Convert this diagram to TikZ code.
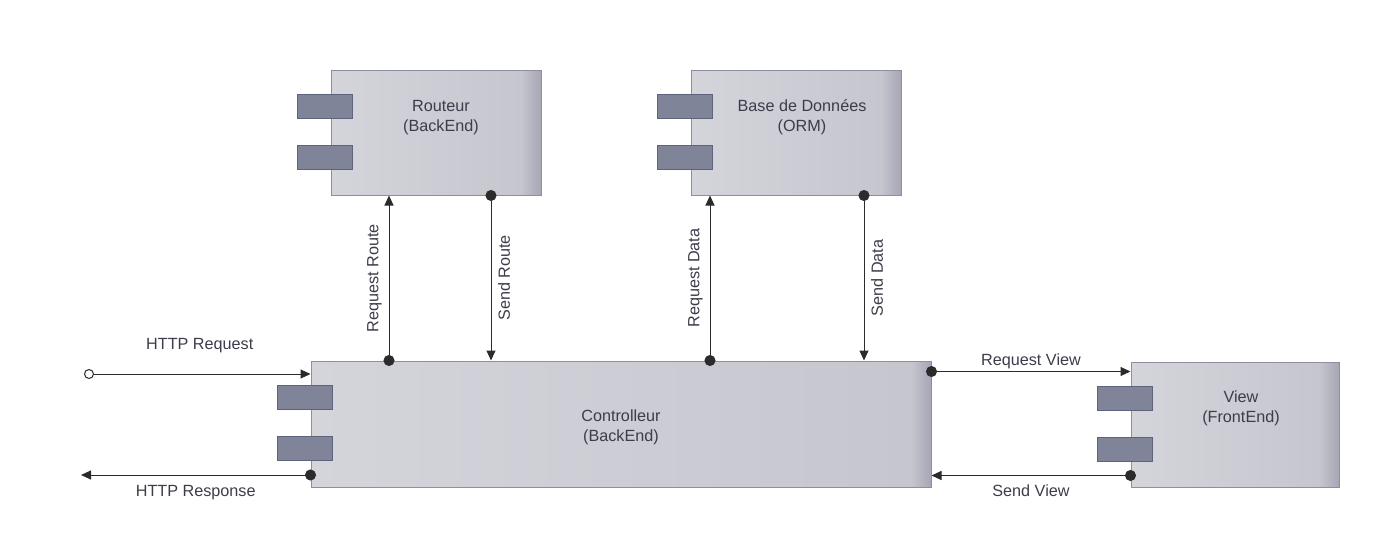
\documentclass[tikz,border=0pt]{standalone}
\usepackage{fontspec}
\setmainfont{Liberation Sans}
\usetikzlibrary{arrows.meta,calc}
\definecolor{boxlight}{HTML}{D4D4DB}
\definecolor{boxgray}{HTML}{C6C6CF}
\definecolor{boxdark}{HTML}{A6A6B5}
\definecolor{boxline}{HTML}{8E8E9E}
\definecolor{portfill}{HTML}{7F8499}
\definecolor{portline}{HTML}{5E637C}
\definecolor{txtgray}{HTML}{3C3C4A}
\definecolor{linegray}{HTML}{2B2B2B}
\pgfdeclarehorizontalshading{compshade}{100bp}{color(0bp)=(boxlight); color(25bp)=(boxlight); color(70.2bp)=(boxgray); color(75bp)=(boxdark); color(100bp)=(boxdark)}
\pgfdeclarehorizontalshading{ctrlshade}{100bp}{color(0bp)=(boxlight); color(25bp)=(boxlight); color(73.4bp)=(boxgray); color(75bp)=(boxdark); color(100bp)=(boxdark)}

\begin{document}
\begin{tikzpicture}[x=0.5pt, y=0.5pt]
    \tikzstyle{every node}=[font=\fontsize{8.1pt}{10pt}\selectfont, text=txtgray]
    \tikzstyle{comp}=[rectangle, draw=boxline, line width=0.5pt, shading=compshade, inner sep=0pt]
    \tikzstyle{port}=[rectangle, draw=portline, line width=0.5pt, fill=portfill, minimum width=27.5pt, minimum height=12pt, inner sep=0pt]
    \tikzstyle{txt}=[align=center]
    \tikzstyle{conn}=[draw=linegray, line width=0.5pt, -{Triangle[length=5pt,width=4.5pt]}]
    \tikzstyle{dotconn}=[conn, {Circle[length=5.5pt]}-{Triangle[length=5pt,width=4.5pt]}, shorten <=-2.75pt]
    \tikzstyle{opnconn}=[conn, {Circle[open,length=5pt,fill=white]}-{Triangle[length=5pt,width=4.5pt]}, shorten <=-2.5pt]
    \useasboundingbox (0,0) rectangle (1373,559);
    \node[comp, minimum width=105pt, minimum height=62.5pt] (rout) at (436,426.5) {};
    \node[comp, minimum width=105pt, minimum height=62.5pt] (bdd) at (796,426.5) {};
    \node[comp, shading=ctrlshade, minimum width=310pt, minimum height=63pt] (ctrl) at (621,135) {};
    \node[comp, minimum width=104pt, minimum height=62.5pt] (view) at (1235,134.5) {};
    \foreach \b in {rout,bdd,ctrl,view} {
        \node[port] (\b-p1) at ($(\b.north west)+(-5.5,-37)$) {};
        \node[port] (\b-p2) at ($(\b.north west)+(-5.5,-87.5)$) {};
    }
    \node[txt] (rout-t) at ($(rout)+(5,15)$) {Routeur\\(BackEnd)};
    \node[txt] (bdd-t) at ($(bdd)+(6,15)$) {Base de Données\\(ORM)};
    \node[txt] (ctrl-t) at ($(ctrl)+(0,-3)$) {Controlleur\\(BackEnd)};
    \node[txt] (view-t) at ($(view)+(6,16)$) {View\\(FrontEnd)};
    \coordinate (rr) at ($(rout.south)+(-47,0)$);
    \coordinate (sr) at ($(rout.south)+(55,0)$);
    \coordinate (rd) at ($(bdd.south)+(-86,0)$);
    \coordinate (sd) at ($(bdd.south)+(68,0)$);
    \coordinate (hin) at (89,185);
    \coordinate (hout) at (81,84);
    \coordinate (rv) at ($(view.north west)+(0,-10)$);
    \coordinate (sv) at ($(view.south west)+(0,12)$);
    \draw[dotconn] (rr |- ctrl.north) -- (rr) node[midway, rotate=90, anchor=south] {Request Route};
    \draw[dotconn] (sr) -- (sr |- ctrl.north) node[midway, rotate=90, anchor=north] {Send Route};
    \draw[dotconn] (rd |- ctrl.north) -- (rd) node[midway, rotate=90, anchor=south] {Request Data};
    \draw[dotconn] (sd) -- (sd |- ctrl.north) node[midway, rotate=90, anchor=north] {Send Data};
    \draw[opnconn] (hin) -- (hin -| ctrl.west) node[midway, yshift=14pt] {HTTP Request};
    \draw[dotconn] (hout -| ctrl.west) -- (hout) node[midway, yshift=-9pt] {HTTP Response};
    \draw[dotconn] (rv -| ctrl.east) -- (rv) node[midway, yshift=5pt] {Request View};
    \draw[dotconn] (sv) -- (sv -| ctrl.east) node[midway, yshift=-7.5pt] {Send View};
\end{tikzpicture}
\end{document}
